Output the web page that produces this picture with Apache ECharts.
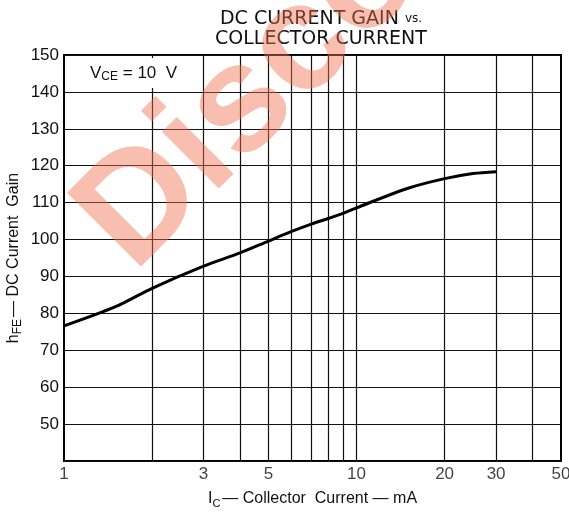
<!DOCTYPE html>
<html>
<head>
<meta charset="utf-8">
<script src="https://cdn.jsdelivr.net/npm/echarts@6/dist/echarts.min.js"></script>
<style>
html,body{margin:0;padding:0;background:#fff;}
#chart{width:569px;height:513px;}
</style>
</head>
<body>
<div id="chart"></div>
<script>
// Data
const icValues  = [1, 1.5, 2, 3, 4, 5, 6, 7, 8, 9, 10, 15, 20, 25, 30];          // mA
const hfeValues = [76.6, 81.8, 86.8, 92.8, 96.4, 99.6, 102.2, 104.2, 105.7, 107.1, 108.6, 113.9, 116.5, 117.9, 118.4];
const xGridLines = [2, 3, 4, 5, 6, 7, 8, 9, 10, 20, 30, 40];
const xTickLabels = [1, 3, 5, 10, 20, 30, 50];
const yTickLabels = [50, 60, 70, 80, 90, 100, 110, 120, 130, 140, 150];

const FONT = '"Liberation Sans", Arial, sans-serif';
const chart = echarts.init(document.getElementById('chart'), null, {renderer: 'canvas'});

const option = {
  backgroundColor: '#fff',
  animation: false,
  title: {
    text: 'DC CURRENT GAIN {s|vs.}\nCOLLECTOR CURRENT',
    left: 316,
    top: 4,
    textAlign: 'center',
    textStyle: {
      fontFamily: '"DejaVu Sans", sans-serif',
      fontSize: 19,
      fontWeight: 'normal',
      color: '#111',
      lineHeight: 20,
      rich: {
        s: {fontFamily: '"DejaVu Sans", sans-serif', fontSize: 12, color: '#111', lineHeight: 20}
      }
    }
  },
  grid: {
    left: 64, right: 8, top: 55, bottom: 52,
    outerBoundsMode: 'none',
    containLabel: false,
    show: true, borderColor: '#000', borderWidth: 2, backgroundColor: 'transparent'
  },
  xAxis: {
    type: 'log',
    logBase: 10,
    min: 1,
    max: 50,
    axisLine: {show: false},
    axisTick: {show: false},
    axisLabel: {show: false},
    splitLine: {show: false},
    minorTick: {show: false},
    name: '{m|I}{sub|C}{m|— Collector  Current — mA}',
    nameLocation: 'middle',
    nameGap: 28,
    nameMoveOverlap: false,
    nameTextStyle: {
      rich: {
        m: {fontFamily: FONT, fontSize: 16, color: '#111', lineHeight: 20, verticalAlign: 'middle'},
        sub: {fontFamily: FONT, fontSize: 11, color: '#111', lineHeight: 12, verticalAlign: 'bottom', padding: [0, 2, 0, 0]}
      }
    }
  },
  yAxis: {
    type: 'value',
    min: 40,
    max: 150,
    interval: 10,
    axisLine: {show: false},
    axisTick: {show: false},
    axisLabel: {
      fontFamily: FONT, fontSize: 17, color: '#111', margin: 5,
      formatter: v => (yTickLabels.indexOf(v) >= 0 ? String(v) : '')
    },
    splitLine: {show: true, lineStyle: {color: '#111', width: 1.2}},
    name: '{m|h}{sub|FE}{m|— DC Current  Gain}',
    nameLocation: 'middle',
    nameGap: 40,
    nameMoveOverlap: false,
    nameTextStyle: {
      rich: {
        m: {fontFamily: FONT, fontSize: 16, color: '#111', lineHeight: 20, verticalAlign: 'middle'},
        sub: {fontFamily: FONT, fontSize: 12, color: '#111', lineHeight: 12, verticalAlign: 'bottom', padding: [0, 2, 0, 0]}
      }
    }
  },
  series: [
    {
      type: 'line',
      data: icValues.map((x, i) => [x, hfeValues[i]]),
      smooth: 0.3,
      showSymbol: false,
      lineStyle: {color: '#000', width: 3},
      z: 5,
      markLine: {
        silent: true,
        symbol: ['none', 'none'],
        label: {show: false},
        lineStyle: {color: '#111', width: 1.2, type: 'solid'},
        data: xGridLines.map(v => ({xAxis: v}))
      }
    },
    {
      type: 'scatter',
      data: xTickLabels.map(v => [v, 40]),
      symbolSize: 0,
      clip: false,
      silent: true,
      label: {
        show: true,
        position: 'bottom',
        distance: 5,
        fontFamily: FONT,
        fontSize: 17,
        color: '#111',
        formatter: p => String(p.value[0])
      }
    }
  ],
  graphic: [
    {
      type: 'text',
      left: 84,
      top: 58,
      z: 50,
      style: {
        text: '{m|V}{sub|CE}{m| = 10  V}',
        backgroundColor: '#fff',
        padding: [5, 6, 5, 6],
        rich: {
          m: {fontFamily: FONT, fontSize: 17, fill: '#111', lineHeight: 20, verticalAlign: 'middle'},
          sub: {fontFamily: FONT, fontSize: 12, fill: '#111', lineHeight: 12, verticalAlign: 'bottom'}
        }
      }
    },
    {
      type: 'text',
      x: 104,
      y: 244,
      rotation: Math.PI / 4,
      z: 100,
      silent: true,
      style: {
        text: 'Discontinued',
        fontFamily: FONT,
        fontSize: 152,
        fontWeight: 'bold',
        fill: 'rgba(240,110,80,0.45)',
        align: 'left',
        verticalAlign: 'middle'
      }
    }
  ]
};
chart.setOption(option);
</script>
</body>
</html>
